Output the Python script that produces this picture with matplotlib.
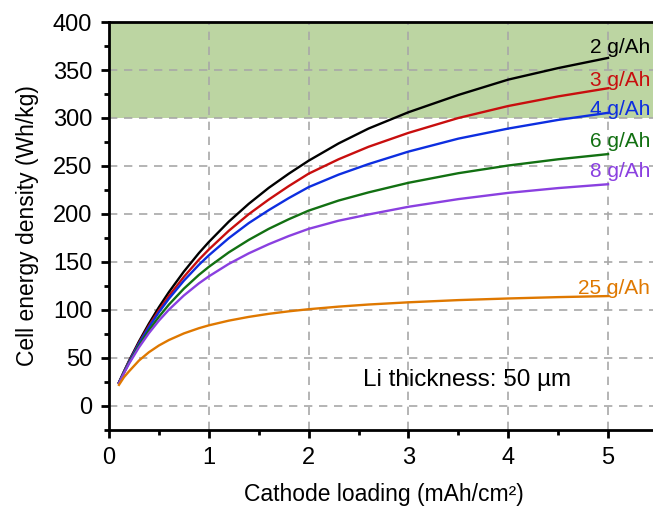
import matplotlib
matplotlib.use("Agg")
import matplotlib.pyplot as plt
from matplotlib.ticker import MultipleLocator

plt.rcParams['font.family'] = ['Liberation Sans', 'DejaVu Sans']

loading = [0.1, 0.15, 0.2, 0.3, 0.4, 0.5, 0.6, 0.75, 0.9, 1.0, 1.2, 1.4, 1.6, 1.8,
           2.0, 2.3, 2.6, 3.0, 3.5, 4.0, 4.5, 5.0]

e_2 = [24.6, 36.0, 46.9, 67.2, 85.8, 102.9, 118.6, 140.0, 159.2, 170.8, 192.0, 210.6,
       227.2, 241.9, 255.5, 273.5, 289.0, 306.0, 324.0, 340.0, 352.0, 362.6]
e_3 = [24.3, 35.5, 46.1, 65.7, 83.5, 99.7, 114.6, 134.5, 152.3, 163.0, 182.5, 199.8,
       215.0, 229.0, 242.0, 257.0, 270.0, 284.5, 300.0, 312.5, 322.5, 331.0]
e_4 = [24.3, 35.3, 45.7, 64.9, 82.1, 97.6, 111.7, 130.5, 147.0, 156.9, 174.8, 190.5,
       204.0, 216.5, 228.0, 241.0, 252.0, 265.0, 278.5, 289.0, 298.0, 305.4]
e_6 = [24.0, 34.8, 44.8, 62.9, 78.8, 92.9, 105.6, 122.2, 136.5, 144.9, 160.0, 173.0,
       184.5, 194.5, 203.5, 214.0, 222.5, 232.5, 242.5, 250.5, 257.0, 262.4]
e_8 = [23.8, 34.2, 43.9, 61.0, 75.9, 88.9, 100.3, 115.1, 127.7, 135.0, 148.0, 159.0,
       168.5, 177.0, 184.5, 193.0, 199.5, 207.5, 215.5, 222.0, 227.0, 231.0]
e_25 = [22.0, 30.0, 36.0, 47.3, 56.0, 63.0, 68.7, 75.6, 81.0, 84.0, 88.9, 92.8,
        96.0, 98.6, 100.8, 103.5, 105.7, 108.0, 110.3, 112.0, 113.4, 114.5]

series = [e_2, e_3, e_4, e_6, e_8, e_25]
labels = ["2 g/Ah", "3 g/Ah", "4 g/Ah", "6 g/Ah", "8 g/Ah", "25 g/Ah"]
colors = ["#000000", "#c80e0e", "#0d2ee0", "#127012", "#8a40e0", "#df7800"]
label_y = [373, 339.5, 309, 276, 244, 122]

fig = plt.figure(figsize=(6.53, 5.07), dpi=100)
ax = fig.add_axes([0.1669, 0.1519, 0.8407, 0.8047])

ax.axhspan(300, 400, color="#bcd5a2", zorder=0, lw=0)

for y, lab, c, ly in zip(series, labels, colors, label_y):
    ax.plot(loading, y, color=c, lw=1.7, zorder=3, solid_joinstyle="round")
    ax.text(5.42, ly, lab, color=c, fontsize=15, ha="right", va="center", zorder=4)

ax.text(3.59, 27, "Li thickness: 50 µm", fontsize=17.5, ha="center", va="center", zorder=4)

ax.set_xlim(0, 5.5)
ax.set_ylim(-25, 400)
ax.xaxis.set_major_locator(MultipleLocator(1))
ax.xaxis.set_minor_locator(MultipleLocator(0.5))
ax.yaxis.set_major_locator(MultipleLocator(50))
ax.yaxis.set_minor_locator(MultipleLocator(25))

ax.set_axisbelow(True)
ax.grid(True, which="major", color="#a8a8a8", linestyle=(0, (5, 4)), lw=1.2, zorder=1)

for s in ax.spines.values():
    s.set_linewidth(2)
ax.spines['right'].set_visible(False)

ax.tick_params(which="major", direction="out", length=6, width=2, labelsize=17, pad=6,
               top=False, right=False)
ax.tick_params(which="minor", direction="out", length=3.5, width=2, top=False, right=False)

ax.set_xlabel("Cathode loading (mAh/cm²)", fontsize=16.5, labelpad=10)
ax.set_ylabel("Cell energy density (Wh/kg)", fontsize=16.5, labelpad=10)

fig.savefig("out.png", dpi=100)
